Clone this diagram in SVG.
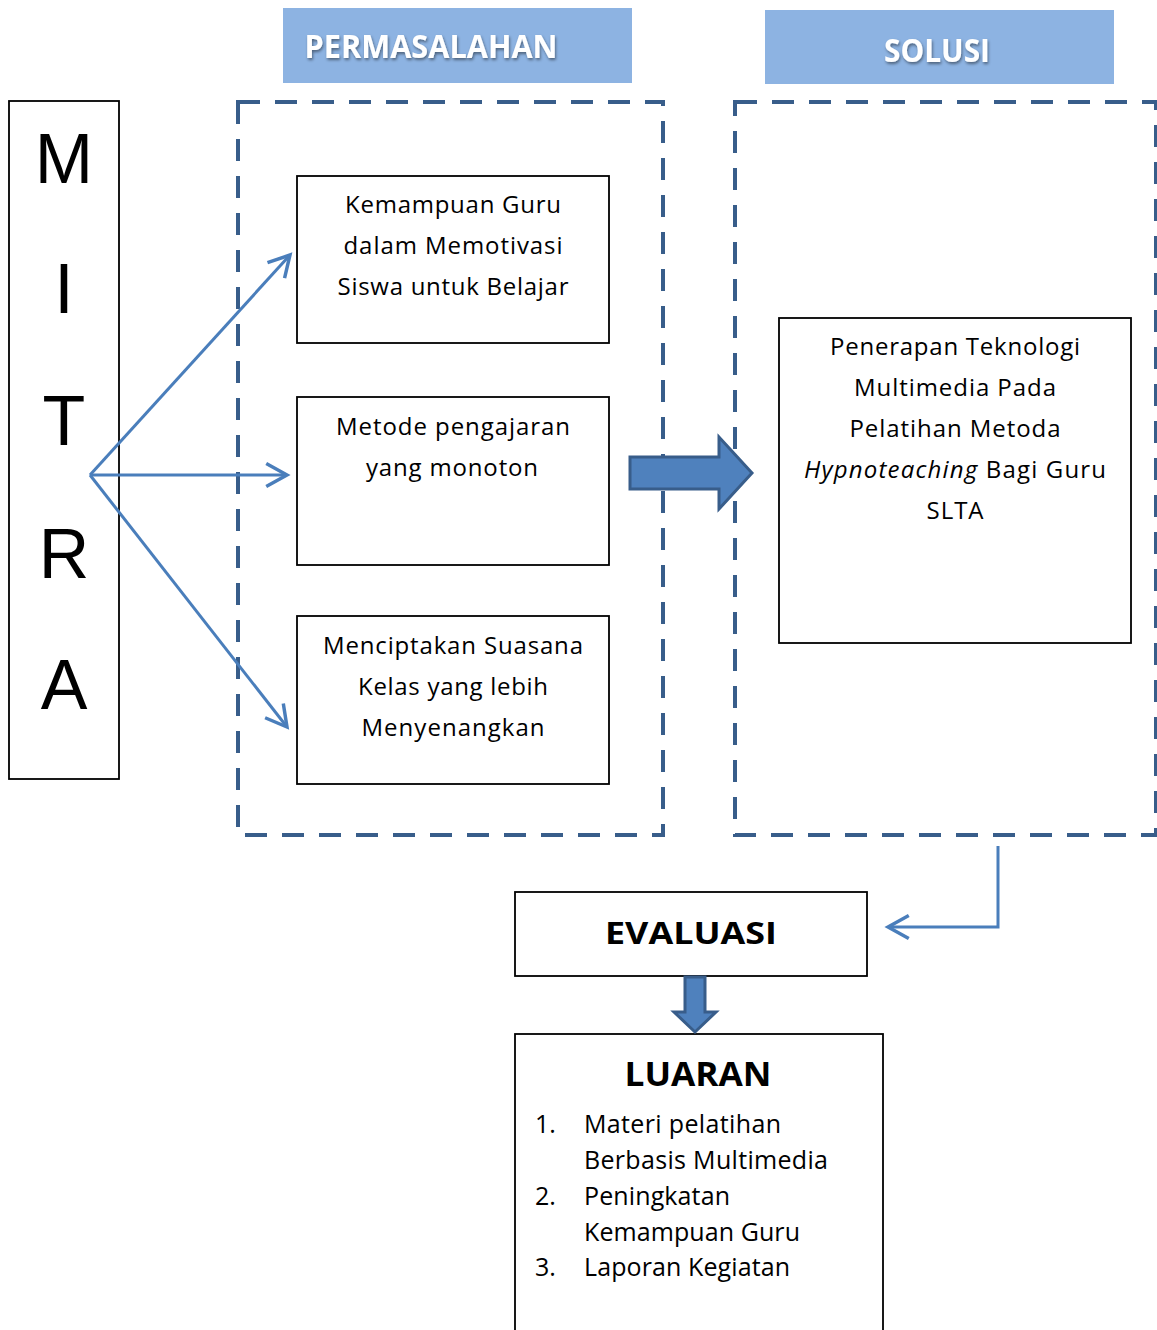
<svg xmlns="http://www.w3.org/2000/svg" width="1157" height="1330" viewBox="0 0 1157 1330">
<style>
.box{fill:#fff;stroke:#000;stroke-width:1.8}
.dash{fill:none;stroke:#385d8a;stroke-width:4;stroke-dasharray:22 15}
.hdr{fill:#8db3e2}
.hdrt{font-family:"Open Sans","Liberation Sans",sans-serif;font-weight:bold;fill:#fff;text-anchor:middle}
.t{font-family:"Open Sans","Liberation Sans",sans-serif;font-size:24px;fill:#000;text-anchor:middle}
.lt{font-family:"Open Sans","Liberation Sans",sans-serif;font-size:25px;fill:#000}
.b{font-family:"Open Sans","Liberation Sans",sans-serif;font-weight:bold;fill:#000;text-anchor:middle}
.m{font-family:"Liberation Sans",Arial,sans-serif;font-size:70px;fill:#000;text-anchor:middle}
.con{fill:none;stroke:#4a7ebb;stroke-width:3}
.blk{fill:#4f81bd;stroke:#385d8a;stroke-width:3;stroke-linejoin:miter}
</style>
<defs>
<filter id="sh" x="-10%" y="-30%" width="120%" height="160%">
<feDropShadow dx="1" dy="2" stdDeviation="1.5" flood-color="#000" flood-opacity="0.45"/>
</filter>
<marker id="ah" markerUnits="userSpaceOnUse" markerWidth="30" markerHeight="30" viewBox="-22 -12 26 24" refX="0" refY="0" orient="auto">
<path d="M-18,-10 L0,0 L-18,10" fill="none" stroke="#4a7ebb" stroke-width="3" stroke-linejoin="miter"/>
</marker>
</defs>

<g id="hdr-permasalahan">
<rect class="hdr" x="283" y="8" width="349" height="75"/>
<text class="hdrt" x="431" y="58" font-size="32" textLength="253" lengthAdjust="spacingAndGlyphs" filter="url(#sh)">PERMASALAHAN</text>
</g>
<g id="hdr-solusi">
<rect class="hdr" x="765" y="10" width="349" height="74"/>
<text class="hdrt" x="937" y="62" font-size="33" textLength="106" lengthAdjust="spacingAndGlyphs" filter="url(#sh)">SOLUSI</text>
</g>

<g id="group-permasalahan">
<rect class="dash" x="238" y="102" width="425" height="733"/>
</g>
<g id="group-solusi">
<rect class="dash" x="735" y="102" width="421" height="733"/>
</g>

<g id="mitra">
<rect class="box" x="9" y="101" width="110" height="678"/>
<text class="m" x="64" y="183">M</text>
<text class="m" x="64" y="313">I</text>
<text class="m" x="64" y="445">T</text>
<text class="m" x="64" y="578">R</text>
<text class="m" x="64" y="709">A</text>
</g>

<g id="p1">
<rect class="box" x="297" y="176" width="312" height="167"/>
<text class="t" x="453" y="213" textLength="216" lengthAdjust="spacing">Kemampuan Guru</text>
<text class="t" x="453" y="254" textLength="219" lengthAdjust="spacing">dalam Memotivasi</text>
<text class="t" x="453" y="295" textLength="231" lengthAdjust="spacing">Siswa untuk Belajar</text>
</g>
<g id="p2">
<rect class="box" x="297" y="397" width="312" height="168"/>
<text class="t" x="453" y="435" textLength="234" lengthAdjust="spacing">Metode pengajaran</text>
<text class="t" x="452" y="476" textLength="172" lengthAdjust="spacing">yang monoton</text>
</g>
<g id="p3">
<rect class="box" x="297" y="616" width="312" height="168"/>
<text class="t" x="453" y="654" textLength="260" lengthAdjust="spacing">Menciptakan Suasana</text>
<text class="t" x="453" y="695" textLength="190" lengthAdjust="spacing">Kelas yang lebih</text>
<text class="t" x="453" y="736" textLength="183" lengthAdjust="spacing">Menyenangkan</text>
</g>

<g id="solusi">
<rect class="box" x="779" y="318" width="352" height="325"/>
<text class="t" x="955" y="355" textLength="250" lengthAdjust="spacing">Penerapan Teknologi</text>
<text class="t" x="955" y="396" textLength="202" lengthAdjust="spacing">Multimedia Pada</text>
<text class="t" x="955" y="437" textLength="211" lengthAdjust="spacing">Pelatihan Metoda</text>
<text class="t" x="955" y="478" textLength="302" lengthAdjust="spacing"><tspan font-style="italic">Hypnoteaching</tspan> Bagi Guru</text>
<text class="t" x="955" y="519" textLength="57" lengthAdjust="spacing">SLTA</text>
</g>

<g id="evaluasi">
<rect class="box" x="515" y="892" width="352" height="84"/>
<text class="b" x="691" y="944" font-size="31" textLength="172" lengthAdjust="spacingAndGlyphs">EVALUASI</text>
</g>

<g id="luaran">
<rect class="box" x="515" y="1034" width="368" height="310"/>
<text class="b" x="698" y="1086" font-size="34" textLength="147" lengthAdjust="spacingAndGlyphs">LUARAN</text>
<text class="lt" x="535" y="1133">1.</text>
<text class="lt" x="584" y="1133" textLength="197" lengthAdjust="spacing">Materi pelatihan</text>
<text class="lt" x="584" y="1169" textLength="244" lengthAdjust="spacing">Berbasis Multimedia</text>
<text class="lt" x="535" y="1205">2.</text>
<text class="lt" x="584" y="1205" textLength="146" lengthAdjust="spacing">Peningkatan</text>
<text class="lt" x="584" y="1241" textLength="216" lengthAdjust="spacing">Kemampuan Guru</text>
<text class="lt" x="535" y="1276">3.</text>
<text class="lt" x="584" y="1276" textLength="206" lengthAdjust="spacing">Laporan Kegiatan</text>
</g>

<g id="connectors">
<line class="con" x1="90" y1="475" x2="290" y2="255" marker-end="url(#ah)"/>
<line class="con" x1="90" y1="475" x2="287" y2="475" marker-end="url(#ah)"/>
<line class="con" x1="90" y1="475" x2="287" y2="727" marker-end="url(#ah)"/>
<polyline class="con" points="998,846 998,927 888,927" marker-end="url(#ah)"/>
<path class="blk" d="M630,457 L719,457 L719,437 L752,473 L719,509 L719,489 L630,489 Z"/>
<path class="blk" d="M685,977 L705,977 L705,1012 L716,1012 L695,1032 L674,1012 L685,1012 Z"/>
</g>
</svg>
